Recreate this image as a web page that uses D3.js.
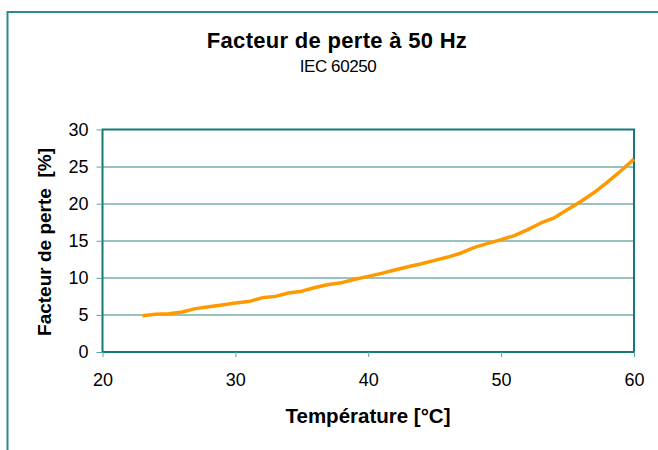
<!DOCTYPE html>
<html>
<head>
<meta charset="utf-8">
<script src="https://cdn.jsdelivr.net/npm/d3@7"></script>
<style>
    body { margin: 0; background: #fff; }
    text { font-family: "Liberation Sans", Arial, sans-serif; fill: #000; }
</style>
</head>
<body>
<div id="chart"></div>
<script>
// temperature [°C] and loss factor [%]
const temperatures = [23, 24, 25, 26, 27, 28, 29, 30, 31, 32, 33, 34, 35, 36, 37, 38, 39, 40, 41,
    42, 43, 44, 45, 46, 47, 48, 49, 50, 51, 52, 53, 54, 55, 56, 57, 58, 59, 60];
const lossFactor = [4.9, 5.1, 5.15, 5.4, 5.85, 6.1, 6.35, 6.6, 6.8, 7.3, 7.5, 7.95, 8.2, 8.7, 9.1, 9.35, 9.8, 10.2, 10.6,
    11.05, 11.5, 11.9, 12.35, 12.8, 13.35, 14.1, 14.65, 15.15, 15.7, 16.5, 17.4, 18.1, 19.2, 20.3, 21.5, 22.9, 24.4, 26.0];
const xTicks = [20, 30, 40, 50, 60];
const yTicks = [0, 5, 10, 15, 20, 25, 30];

const svgWidth = 658, svgHeight = 450;
const margin = { top: 129.5, right: 24, bottom: 98, left: 102.5 };
const width = svgWidth - margin.left - margin.right;
const height = svgHeight - margin.top - margin.bottom;
const teal = "#137a78";

const root = d3.select("#chart")
    .append("svg")
    .attr("width", svgWidth)
    .attr("height", svgHeight);

// outer frame (only top and left edges visible)
root.append("path")
    .attr("d", "M7.5,460 V12 H670")
    .attr("fill", "none")
    .attr("stroke", "#2a8c8a")
    .attr("stroke-width", 2);

root.append("text")
    .attr("x", 337)
    .attr("y", 48)
    .attr("text-anchor", "middle")
    .style("font-size", "22px")
    .style("font-weight", "bold")
    .style("letter-spacing", "0.3px")
    .text("Facteur de perte à 50 Hz");

root.append("text")
    .attr("x", 338)
    .attr("y", 72)
    .attr("text-anchor", "middle")
    .style("font-size", "17px")
    .style("letter-spacing", "-0.4px")
    .text("IEC 60250");

const svg = root.append("g")
    .attr("transform", `translate(${margin.left},${margin.top})`);

const x = d3.scaleLinear().domain([20, 60]).range([0, width]);
const y = d3.scaleLinear().domain([0, 30]).range([height, 0]);

// gridlines
svg.append("g")
    .selectAll("line")
    .data(yTicks.filter(d => d > 0 && d < 30))
    .enter().append("line")
    .attr("x1", 0)
    .attr("x2", width)
    .attr("y1", d => Math.round(y(d)) + 0.5)
    .attr("y2", d => Math.round(y(d)) + 0.5)
    .attr("stroke", "#2f8783")
    .attr("stroke-width", 1);

// plot border
svg.append("rect")
    .attr("x", 0)
    .attr("y", 0)
    .attr("width", width)
    .attr("height", height)
    .attr("fill", "none")
    .attr("stroke", teal)
    .attr("stroke-width", 2);

const xAxis = svg.append("g")
    .attr("transform", `translate(0,${height})`)
    .call(d3.axisBottom(x).tickValues(xTicks).tickSize(5).tickPadding(16));
xAxis.select(".domain").remove();
xAxis.selectAll("line").attr("stroke", "#5aa3a0");
xAxis.selectAll("text").style("font-size", "18px");

const yAxis = svg.append("g")
    .call(d3.axisLeft(y).tickValues(yTicks).tickSize(6).tickPadding(8));
yAxis.select(".domain").remove();
yAxis.selectAll("line").attr("stroke", "#5aa3a0");
yAxis.selectAll("text").style("font-size", "18px");

const line = d3.line()
    .x((d, i) => x(temperatures[i]))
    .y(d => y(d));

svg.append("path")
    .datum(lossFactor)
    .attr("d", line)
    .attr("fill", "none")
    .attr("stroke", "#ff9900")
    .attr("stroke-width", 3.5)
    .attr("stroke-linejoin", "round");

root.append("text")
    .attr("x", 368)
    .attr("y", 423)
    .attr("text-anchor", "middle")
    .style("font-size", "20.5px")
    .style("font-weight", "bold")
    .text("Température [°C]");

root.append("text")
    .attr("transform", "translate(51,242) rotate(-90)")
    .attr("text-anchor", "middle")
    .style("font-size", "19px")
    .style("font-weight", "bold")
    .style("white-space", "pre")
    .text("Facteur de perte  [%]");
</script>
</body>
</html>
